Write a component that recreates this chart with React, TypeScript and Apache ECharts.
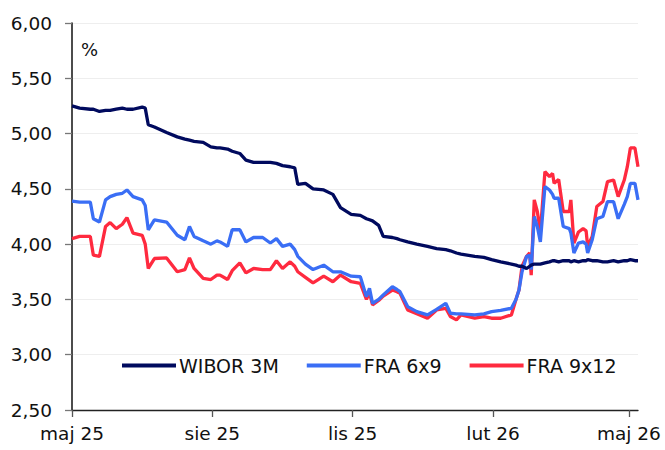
import React, { useEffect, useRef } from "react";
import * as echarts from "echarts";

const dates: string[] = [
  "2025-05-01","2025-05-06","2025-05-13","2025-05-15","2025-05-19","2025-05-23","2025-05-26","2025-05-30",
  "2025-06-03","2025-06-06","2025-06-10","2025-06-16","2025-06-18","2025-06-20","2025-06-24",
  "2025-07-02","2025-07-09","2025-07-14","2025-07-17","2025-07-20","2025-07-26","2025-07-31",
  "2025-08-04","2025-08-06","2025-08-11","2025-08-14","2025-08-19","2025-08-23","2025-08-28",
  "2025-09-03","2025-09-08","2025-09-12","2025-09-16","2025-09-21","2025-09-24","2025-09-26",
  "2025-10-01","2025-10-06","2025-10-13","2025-10-19","2025-10-24","2025-10-31",
  "2025-11-06","2025-11-10","2025-11-12","2025-11-14","2025-11-18","2025-11-21","2025-11-27","2025-11-30",
  "2025-12-02","2025-12-07","2025-12-13","2025-12-20","2025-12-26",
  "2026-01-01","2026-01-04","2026-01-08","2026-01-11","2026-01-20","2026-01-26","2026-01-31",
  "2026-02-06","2026-02-13","2026-02-16","2026-02-18","2026-02-20","2026-02-23","2026-02-25","2026-02-26","2026-02-28",
  "2026-03-02","2026-03-04","2026-03-07","2026-03-10","2026-03-12","2026-03-13","2026-03-16","2026-03-19",
  "2026-03-23","2026-03-24","2026-03-26","2026-03-29",
  "2026-04-01","2026-04-03","2026-04-04","2026-04-07","2026-04-10","2026-04-14","2026-04-17","2026-04-21",
  "2026-04-24","2026-04-28","2026-04-30",
  "2026-05-02","2026-05-05","2026-05-07",
];

const wibor3m: number[] = [
  5.25,5.23,5.22,5.22,5.20,5.21,5.21,5.22,
  5.23,5.22,5.22,5.24,5.23,5.08,5.06,
  5.01,4.97,4.95,4.94,4.93,4.92,4.88,
  4.87,4.87,4.86,4.84,4.82,4.76,4.74,
  4.74,4.74,4.73,4.71,4.70,4.69,4.54,
  4.55,4.50,4.49,4.45,4.33,4.27,
  4.26,4.23,4.22,4.21,4.17,4.07,4.06,4.05,
  4.04,4.02,4.00,3.98,3.96,
  3.95,3.94,3.92,3.91,3.89,3.88,3.86,
  3.84,3.82,3.81,3.80,3.80,3.78,3.80,3.81,3.82,
  3.82,3.82,3.83,3.84,3.85,3.85,3.84,3.85,
  3.85,3.84,3.85,3.84,
  3.85,3.85,3.86,3.85,3.85,3.84,3.84,3.85,
  3.84,3.85,3.85,
  3.86,3.85,3.85,
];

const fra6x9: number[] = [
  4.39,4.38,4.38,4.23,4.20,4.40,4.43,4.45,
  4.46,4.49,4.43,4.40,4.35,4.13,4.22,
  4.20,4.08,4.04,4.16,4.07,4.03,4.00,
  4.03,4.02,3.98,4.13,4.13,4.02,4.06,
  4.06,4.01,4.05,3.98,4.00,3.95,3.89,
  3.82,3.77,3.81,3.75,3.75,3.71,
  3.705,3.525,3.60,3.465,3.50,3.54,3.615,3.59,
  3.57,3.435,3.39,3.36,3.41,
  3.465,3.375,3.37,3.37,3.36,3.37,3.39,
  3.40,3.42,3.50,3.585,3.75,3.89,3.90,3.77,4.25,
  4.16,4.02,4.52,4.49,4.45,4.415,4.415,4.16,
  4.14,4.10,3.92,4.01,
  4.02,4.00,3.92,4.04,4.23,4.25,4.385,4.385,
  4.23,4.36,4.43,
  4.55,4.55,4.40,
];

const fra9x12: number[] = [
  4.05,4.07,4.07,3.90,3.89,4.16,4.195,4.14,
  4.18,4.24,4.10,4.08,4.00,3.78,3.87,
  3.875,3.75,3.77,3.875,3.78,3.69,3.68,
  3.72,3.72,3.68,3.76,3.83,3.74,3.78,
  3.77,3.77,3.85,3.78,3.84,3.80,3.75,
  3.70,3.65,3.71,3.66,3.72,3.66,
  3.645,3.50,3.56,3.45,3.49,3.53,3.585,3.57,
  3.555,3.405,3.37,3.33,3.405,
  3.42,3.345,3.315,3.36,3.33,3.345,3.33,
  3.33,3.36,3.50,3.585,3.80,3.89,3.92,3.72,4.40,
  4.295,4.11,4.655,4.61,4.64,4.55,4.585,4.295,
  4.295,4.40,4.01,4.11,
  4.14,4.12,3.98,4.07,4.34,4.385,4.565,4.58,
  4.43,4.58,4.70,
  4.87,4.87,4.70,
];

const tickDates: string[] = ["2025-05-01", "2025-08-01", "2025-11-01", "2026-02-01", "2026-05-01"];
const monthNames: string[] = ["sty","lut","mar","kwi","maj","cze","lip","sie","wrz","paź","lis","gru"];
const seriesNames: string[] = ["WIBOR 3M", "FRA 6x9", "FRA 9x12"];
const seriesColors: string[] = ["#000a5e", "#3a6ef5", "#ff2a3f"];

const toTs = (s: string) => {
  const [y, m, d] = s.split("-").map(Number);
  return Date.UTC(y, m - 1, d);
};

export default function App() {
  const ref = useRef<HTMLDivElement>(null);
  useEffect(() => {
    if (!ref.current) return;
    const chart = echarts.init(ref.current, undefined, { renderer: "svg" });
    const xs = dates.map(toTs);
    const all = [wibor3m, fra6x9, fra9x12];
    const font = "DejaVu Sans";
    chart.setOption({
      animation: false,
      backgroundColor: "#ffffff",
      grid: { left: 72, top: 23, right: 27, bottom: 40, containLabel: false },
      legend: {
        left: 117,
        top: 351,
        icon: "rect",
        itemWidth: 54,
        itemHeight: 4,
        itemGap: 28,
        textStyle: { fontFamily: font, fontSize: 19, color: "#111", padding: [0, 0, 0, -2] },
        data: seriesNames,
      },
      xAxis: {
        type: "value",
        min: toTs(dates[0]),
        max: toTs(dates[dates.length - 1]),
        axisLine: { lineStyle: { color: "#222", width: 1.3 } },
        axisTick: {
          show: true,
          length: 7,
          customValues: tickDates.map(toTs),
          lineStyle: { color: "#555", width: 1.3 },
        },
        axisLabel: {
          customValues: tickDates.map(toTs),
          fontFamily: font,
          fontSize: 18.5,
          color: "#111",
          margin: 14,
          formatter: (v: number) => {
            const d = new Date(v);
            return monthNames[d.getUTCMonth()] + " " + String(d.getUTCFullYear()).slice(2);
          },
        },
        splitLine: { show: false },
      },
      yAxis: {
        type: "value",
        min: 2.5,
        max: 6,
        interval: 0.5,
        axisLine: { show: true, lineStyle: { color: "#111", width: 1.5 } },
        axisTick: { show: true, length: 7, lineStyle: { color: "#777", width: 1.3 } },
        axisLabel: {
          fontFamily: font,
          fontSize: 18.5,
          color: "#111",
          margin: 20,
          formatter: (v: number) => v.toFixed(2).replace(".", ","),
        },
        splitLine: { show: true, lineStyle: { color: "#eeeeee", width: 1 } },
      },
      graphic: [
        {
          type: "text",
          left: 81,
          top: 40,
          style: { text: "%", fontFamily: font, fontSize: 18, fill: "#111" },
        },
      ],
      series: seriesNames.map((name, i) => ({
        name,
        type: "line",
        showSymbol: false,
        symbol: "none",
        z: 3 - i + 1,
        lineStyle: { color: seriesColors[i], width: 3.3 },
        itemStyle: { color: seriesColors[i] },
        data: xs.map((x, j) => [x, all[i][j]]),
      })),
    });
    return () => chart.dispose();
  }, []);
  return (
    <div
      ref={ref}
      style={{ position: "fixed", left: 0, top: 0, width: 665, height: 450, background: "#fff" }}
    />
  );
}
